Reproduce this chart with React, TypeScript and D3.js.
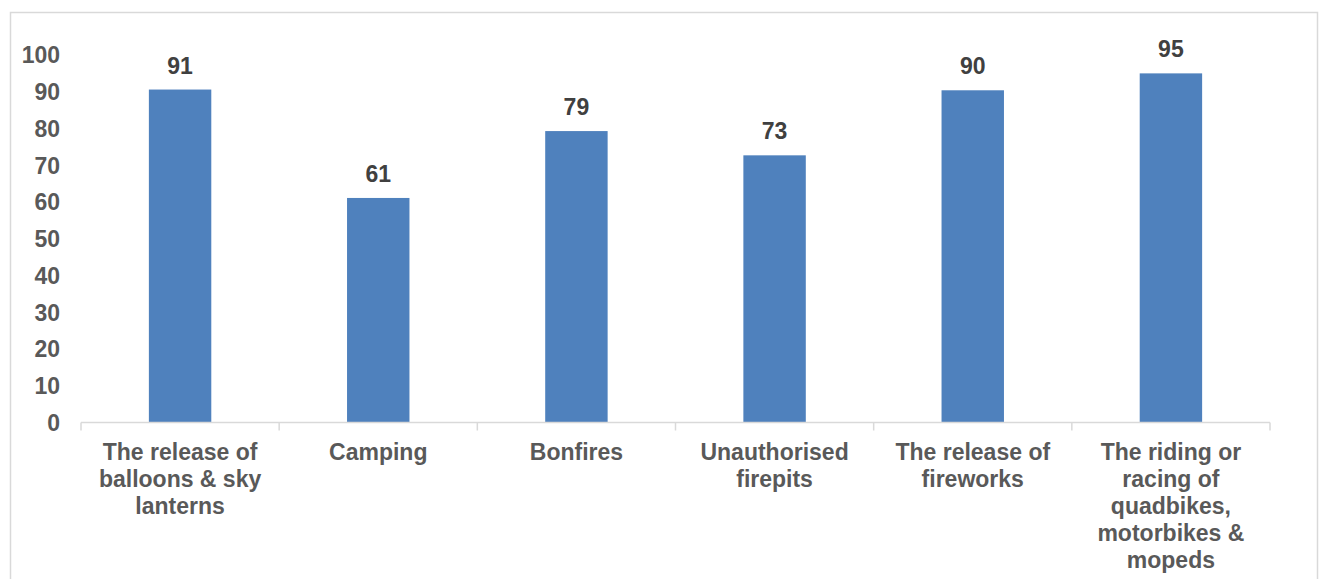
import React from "react";
import * as d3 from "d3";

const categories: string[] = [
  "The release of\nballoons & sky\nlanterns",
  "Camping",
  "Bonfires",
  "Unauthorised\nfirepits",
  "The release of\nfireworks",
  "The riding or\nracing of\nquadbikes,\nmotorbikes &\nmopeds",
];
const values: number[] = [90.6, 61.1, 79.3, 72.7, 90.4, 95.0];
const yTicks: number[] = [0, 10, 20, 30, 40, 50, 60, 70, 80, 90, 100];

const W = 1322;
const H = 579;
const FONT = "'Liberation Sans', Arial, sans-serif";

export default function App() {
  const x = d3.scaleBand<number>().domain(d3.range(categories.length)).range([81, 1270]).paddingInner(0).paddingOuter(0);
  const y = d3.scaleLinear().domain([0, 100]).range([422.5, 55]);
  const bw = x.bandwidth() * 0.315;
  const fmt = d3.format(".0f");
  const boundaries = d3.range(categories.length + 1).map((i) => 81 + i * x.step());

  return (
    <svg width={W} height={H} style={{ position: "absolute", left: 0, top: 0, display: "block" }}>
      <rect x={0} y={0} width={W} height={H} fill="#ffffff" />
      <rect x={10.5} y={12.5} width={1307} height={H + 20} fill="none" stroke="#d9d9d9" strokeWidth={1.5} />
      {/* bars */}
      {values.map((v, i) => (
        <rect
          key={i}
          x={(x(i) as number) + x.bandwidth() / 2 - bw / 2}
          y={y(v)}
          width={bw}
          height={y(0) - y(v)}
          fill="#4F81BD"
        />
      ))}
      {/* axis line */}
      <line x1={81} x2={1270} y1={y(0)} y2={y(0)} stroke="#d9d9d9" strokeWidth={1.5} />
      {boundaries.map((b, i) => (
        <line key={i} x1={b} x2={b} y1={y(0)} y2={y(0) + 8} stroke="#d9d9d9" strokeWidth={1.5} />
      ))}
      {/* y labels */}
      {yTicks.map((t) => (
        <text
          key={t}
          x={60}
          y={y(t)}
          dy="0.36em"
          textAnchor="end"
          fontFamily={FONT}
          fontWeight="bold"
          fontSize={23}
          fill="#595959"
        >
          {t}
        </text>
      ))}
      {/* data labels */}
      {values.map((v, i) => (
        <text
          key={i}
          x={(x(i) as number) + x.bandwidth() / 2}
          y={y(v) - 16}
          textAnchor="middle"
          fontFamily={FONT}
          fontWeight="bold"
          fontSize={23}
          fill="#404040"
        >
          {fmt(v)}
        </text>
      ))}
      {/* x labels */}
      {categories.map((c, i) => (
        <text
          key={i}
          x={(x(i) as number) + x.bandwidth() / 2}
          y={460}
          textAnchor="middle"
          fontFamily={FONT}
          fontWeight="bold"
          fontSize={23}
          fill="#595959"
        >
          {c.split("\n").map((line, j) => (
            <tspan key={j} x={(x(i) as number) + x.bandwidth() / 2} dy={j === 0 ? 0 : 27}>
              {line}
            </tspan>
          ))}
        </text>
      ))}
    </svg>
  );
}
